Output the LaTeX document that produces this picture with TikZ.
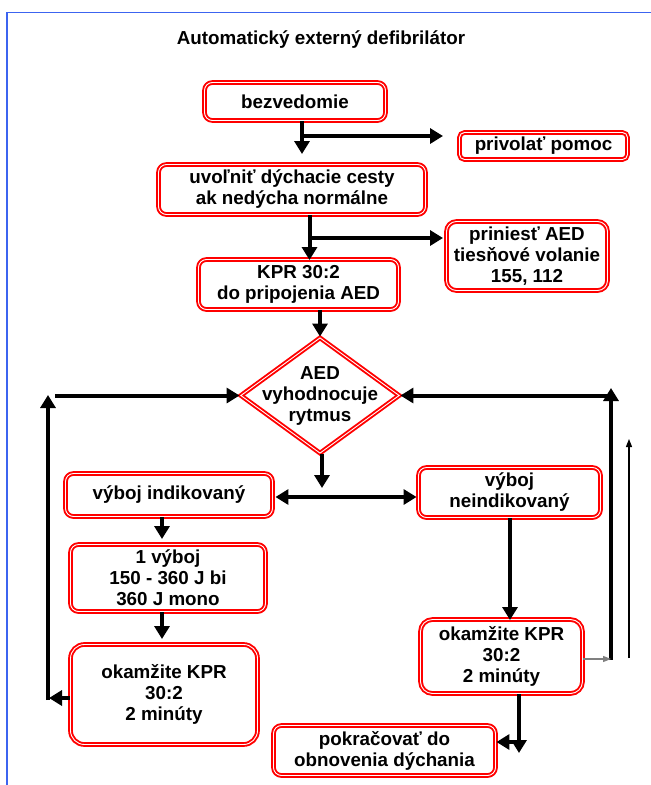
\documentclass[tikz,border=0pt]{standalone}
\usepackage{fontspec}
\setmainfont{Liberation Sans}
\usetikzlibrary{arrows.meta,shapes.geometric}
\definecolor{frameblue}{RGB}{60,100,240}
\definecolor{boxred}{RGB}{255,0,0}
\begin{document}
\begin{tikzpicture}[x=1pt,y=-1pt,
  txt/.style={font=\fontsize{18.8}{21}\selectfont\bfseries, align=center},
  box/.style={txt, draw=boxred, double=white, line width=1.9pt, double distance=0.9pt,
              rounded corners=8pt, inner sep=0pt},
  tarr/.style={line width=4pt, -{Triangle[length=13pt,width=15pt]}},
  darr/.style={line width=4pt, {Triangle[length=13pt,width=15pt]}-{Triangle[length=13pt,width=15pt]}},
  tharr/.style={line width=1.2pt, -{Triangle[length=8pt,width=6pt]}}
]
\useasboundingbox (0,0) rectangle (651,785);
\fill[white] (0,0) rectangle (651,785);
% frame
\draw[frameblue, line width=1.5pt] (7,785) -- (7,12.5) -- (651,12.5);

% title
\node[txt, font=\fontsize{18.8}{21}\selectfont\bfseries] (title) at (321,40) {Automatický externý defibrilátor};

% boxes
\node[box, minimum width=181pt, minimum height=38pt] (bez) at (295,101.5) {bezvedomie};
\node[box, minimum width=168pt, minimum height=27pt, rounded corners=5pt] (priv) at (543.5,146) {privolať pomoc};
\node[box, minimum width=267pt, minimum height=50pt] (uvol) at (292,189.5) {uvoľniť dýchacie cesty\\ak nedýcha normálne};
\node[box, minimum width=161pt, minimum height=69pt, rounded corners=10pt] (prin) at (527,256) {priniesť AED\\tiesňové volanie\\155, 112};
\node[box, minimum width=200pt, minimum height=50pt] (kpr) at (298.5,284.5) {KPR 30:2\\do pripojenia AED};
\node[diamond, draw=boxred, double=white, line width=1.9pt, double distance=0.9pt,
      minimum width=159pt, minimum height=116pt, inner sep=0pt] (dia) at (320,395.5) {};
\node[txt] (diatext) at (320,396) {AED\\vyhodnocuje\\rytmus};
\node[box, minimum width=207pt, minimum height=43pt] (vi) at (169,495) {výboj indikovaný};
\node[box, minimum width=182pt, minimum height=50pt] (vn) at (509.5,492.5) {výboj\\neindikovaný};
\node[box, minimum width=195pt, minimum height=67pt] (v1) at (168,578) {1 výboj\\150 - 360 J bi\\360 J mono};
\node[box, minimum width=187pt, minimum height=100pt, rounded corners=14pt] (okL) at (164,694.5) {okamžite KPR\\30:2\\2 minúty};
\node[box, minimum width=162pt, minimum height=74pt, rounded corners=12pt] (okR) at (501.5,656.5) {okamžite KPR\\30:2\\2 minúty};
\node[box, minimum width=222pt, minimum height=50pt] (pok) at (384.5,750.5) {pokračovať do\\obnovenia dýchania};

% helper coordinates
\coordinate (a1) at (302,154);
\coordinate (a2) at (443,136);
\coordinate (b1) at (309.5,260);
\coordinate (b2) at (443,238);
\coordinate (c1) at (322,488);
\coordinate (c2) at (322,497);
\coordinate (d1) at (162,539);
\coordinate (d2) at (162,639);
\coordinate (l1) at (49,698);
\coordinate (l2) at (48,700);
\coordinate (l3) at (48,395);
\coordinate (l4) at (55,395.5);
\coordinate (r1) at (611,660);
\coordinate (r2) at (611,388);
\coordinate (r4) at (611,659);
\coordinate (t1) at (629,658);
\coordinate (t2) at (629,439);
\coordinate (e1) at (510,620);
\coordinate (f1) at (519,753);
\coordinate (f2) at (519,742);

% connectors
\draw[tarr] (bez.south -| a1) -- (a1);
\draw[tarr] (a1 |- a2) -- (a2);
\draw[tarr] (uvol.south -| b1) -- (b1);
\draw[tarr] (b1 |- b2) -- (b2);
\draw[tarr] (kpr.south -| dia.north) -- (dia.north);
\draw[tarr] (dia.south -| c1) -- (c1);
\draw[darr, shorten <=2pt, shorten >=1pt] (vi.east |- c2) -- (vn.west |- c2);
\draw[tarr] (vi.south -| d1) -- (d1);
\draw[tarr] (v1.south -| d2) -- (d2);
\draw[tarr] (okL.west |- l1) -- (l1);
\draw[tarr] (l2) -- (l3);
\draw[tarr] (l4) -- (dia.west);
\draw[tarr] (r1) -- (r2);
\draw[tarr] (dia.east -| r1) -- (dia.east);
\draw[tharr, draw=gray, fill=black] (okR.east |- r4) -- (r4);
\draw[tharr] (t1) -- (t2);
\draw[tarr] (vn.south -| e1) -- (e1);
\draw[tarr] (okR.south -| f1) -- (f1);
\draw[tarr] (f2) -- (pok.east |- f2);
\end{tikzpicture}
\end{document}
